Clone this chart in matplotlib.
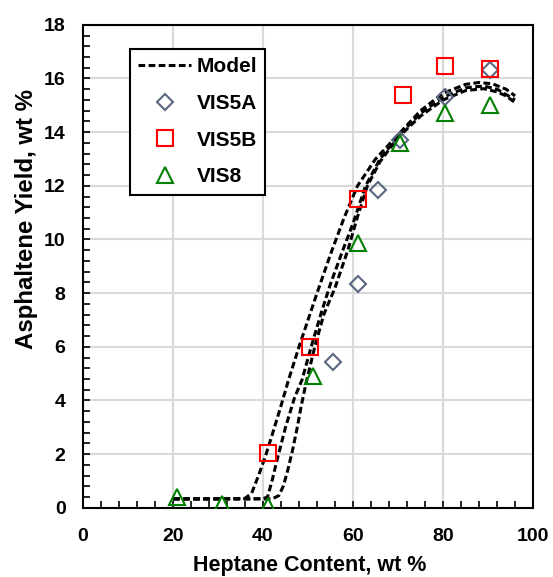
import matplotlib
matplotlib.use("Agg")
import matplotlib.pyplot as plt
from matplotlib.ticker import MultipleLocator

plt.rcParams['font.family'] = ['Liberation Sans', 'DejaVu Sans']
plt.rcParams['font.weight'] = 'bold'

# measured points
vis5a_x = [55.5, 61, 65.5, 70.5, 80.5, 90.5]
vis5a_y = [5.45, 8.35, 11.85, 13.7, 15.3, 16.3]
vis5b_x = [41, 50.5, 61, 71, 80.5, 90.5]
vis5b_y = [2.05, 6.0, 11.5, 15.4, 16.45, 16.35]
vis8_x = [21, 31, 41, 51, 61, 70.5, 80.5, 90.5]
vis8_y = [0.4, 0.15, 0.05, 4.9, 9.85, 13.6, 14.7, 15.0]

# model curves
model_a_x = [20, 30, 36, 37.5, 39, 40.5, 42, 44, 45.7, 48, 50, 52, 55, 58, 61, 65, 70, 75, 80, 85, 88, 91, 94, 96]
model_a_y = [0.33, 0.33, 0.35, 0.55, 1.2, 1.9, 2.7, 3.8, 4.78, 6.0, 7.0, 8.0, 9.45, 10.8, 12.0, 13.0, 13.9, 14.8, 15.45, 15.78, 15.85, 15.8, 15.6, 15.35]
model_b_x = [20, 35, 40, 41, 42, 43, 45, 47, 48.7, 50.7, 53, 55, 57.8, 60, 62.8, 66, 70, 75, 80, 85, 89, 92, 94, 96]
model_b_y = [0.33, 0.33, 0.34, 0.4, 1.0, 1.7, 3.0, 4.1, 4.78, 6.0, 7.3, 8.35, 9.63, 10.6, 12.0, 13.0, 13.85, 14.7, 15.3, 15.65, 15.72, 15.6, 15.4, 15.2]
model_c_x = [20, 42, 43.5, 44.5, 45.5, 46.5, 47.5, 48.5, 49.5, 51.5, 53.5, 56, 58.9, 61, 63.2, 66, 70, 75, 80, 85, 89, 92, 94, 96]
model_c_y = [0.33, 0.33, 0.45, 0.8, 1.4, 2.1, 2.9, 3.8, 4.6, 6.0, 7.2, 8.2, 9.63, 10.85, 12.0, 12.9, 13.8, 14.6, 15.2, 15.55, 15.62, 15.5, 15.35, 15.1]

fig = plt.figure(figsize=(5.53, 5.77), dpi=100)
ax = fig.add_axes([0.150, 0.120, 0.814, 0.837])

dash = (0, (2.2, 1.1))
ax.plot(model_a_x, model_a_y, color='black', lw=2.2, ls=dash, label='Model', zorder=3)
ax.plot(model_b_x, model_b_y, color='black', lw=2.2, ls=dash, zorder=3)
ax.plot(model_c_x, model_c_y, color='black', lw=2.2, ls=dash, zorder=3)

ax.plot(vis5a_x, vis5a_y, ls='none', marker='D', ms=8.5, mfc='none', mec='#5a6780', mew=1.5,
        label='VIS5A', zorder=4)
ax.plot(vis5b_x, vis5b_y, ls='none', marker='s', ms=11, mfc='none', mec='#ff0000', mew=1.5,
        label='VIS5B', zorder=4)
ax.plot(vis8_x, vis8_y, ls='none', marker='^', ms=11, mfc='none', mec='#008000', mew=1.5,
        label='VIS8', zorder=4)

ax.set_xlim(0, 100)
ax.set_ylim(0, 18)
ax.xaxis.set_major_locator(MultipleLocator(20))
ax.xaxis.set_minor_locator(MultipleLocator(4))
ax.yaxis.set_major_locator(MultipleLocator(2))
ax.yaxis.set_minor_locator(MultipleLocator(0.4))
ax.tick_params(which='both', direction='in', labelsize=14, top=False, right=False)
ax.tick_params(which='major', length=5, width=1.2)
ax.tick_params(which='minor', length=5, width=1.2)
ax.tick_params(axis='x', which='major', pad=14.5)
ax.tick_params(axis='y', which='major', pad=12.5)
ax.grid(True, which='major', color='#d9d9d9', lw=1.5, zorder=0)
ax.set_axisbelow(True)
for sp in ax.spines.values():
    sp.set_linewidth(1.5)

ax.set_xlabel('Heptane Content, wt %', fontsize=15.5, fontweight='bold')
ax.set_ylabel('Asphaltene Yield, wt %', fontsize=17.3, fontweight='bold')
ax.xaxis.set_label_coords(0.504, -0.097)
ax.yaxis.set_label_coords(-0.10, 0.598)

leg = ax.legend(loc='upper left', bbox_to_anchor=(0.104, 0.950), borderaxespad=0,
                fancybox=False, edgecolor='black', framealpha=1, fontsize=15,
                handlelength=2.55, labelspacing=0.85, borderpad=0.4, handletextpad=0.25)
leg.get_frame().set_linewidth(1.5)
for t in leg.get_texts():
    t.set_fontweight('bold')

fig.savefig('out.png', dpi=100)
